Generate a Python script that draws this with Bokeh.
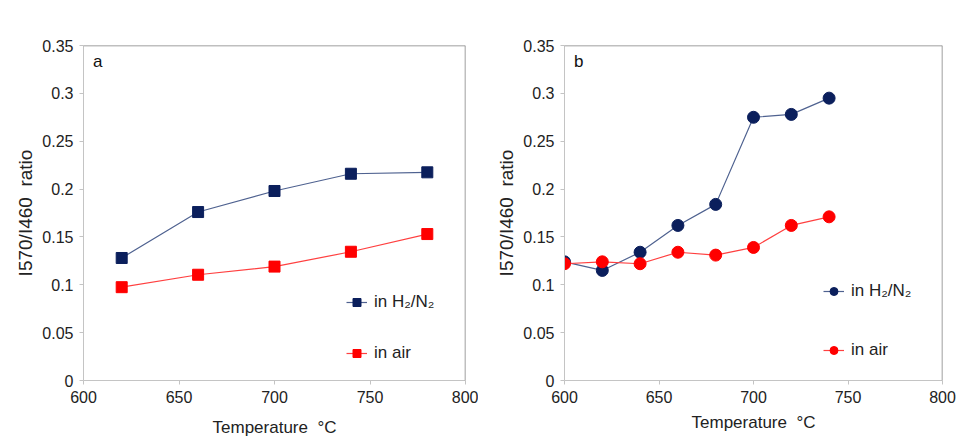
from bokeh.plotting import figure
from bokeh.layouts import row
from bokeh.models import Legend, LegendItem, Span, Label, FixedTicker
from bokeh.embed import file_html
from bokeh.resources import INLINE

# Panel a
temp_a = [620, 660, 700, 740, 780]
h2n2_a = [0.128, 0.176, 0.198, 0.216, 0.2175]
air_a = [0.0975, 0.1105, 0.119, 0.1345, 0.153]

# Panel b
temp_b = [600, 620, 640, 660, 680, 700, 720, 740]
h2n2_b = [0.124, 0.115, 0.134, 0.162, 0.184, 0.275, 0.278, 0.295]
air_b = [0.122, 0.124, 0.122, 0.134, 0.131, 0.139, 0.162, 0.171]

x_ticks = [600, 650, 700, 750, 800]
y_ticks = [0, 0.05, 0.1, 0.15, 0.2, 0.25, 0.3, 0.35]
y_labels = {0: "0", 0.05: "0.05", 0.1: "0.1", 0.15: "0.15", 0.2: "0.2",
            0.25: "0.25", 0.3: "0.3", 0.35: "0.35"}
x_title = "Temperature\u00a0 \u00b0C"
y_title = "I570/I460\u00a0 ratio"

NAVY = "#0b1f5c"
NAVY_LINE = "#4f6290"
RED = "#ff0000"
RED_LINE = "#ff4040"
FONT = "Liberation Sans"


def make_panel(w, h, borders, xs, s1, s2, marker, msize, panel_letter,
               leg_loc, leg_spacing, xlab_standoff):
    bl, br, bt, bb = borders
    p = figure(width=w, height=h, output_backend="svg", toolbar_location=None,
               x_range=(600, 800), y_range=(0, 0.35),
               min_border_left=bl, min_border_right=br,
               min_border_top=bt, min_border_bottom=bb)
    p.outline_line_color = None
    p.grid.visible = False
    p.background_fill_color = "white"
    p.border_fill_color = "white"

    for ax in (p.xaxis[0], p.yaxis[0]):
        ax.axis_line_color = "#c4c4c4"
        ax.major_tick_line_color = "#c4c4c4"
        ax.major_tick_out = 4
        ax.major_tick_in = 0
        ax.minor_tick_line_color = None
        ax.major_label_text_font = FONT
        ax.major_label_text_font_size = "16px"
        ax.major_label_text_color = "#222222"
        ax.axis_label_text_font = FONT
        ax.axis_label_text_font_style = "normal"
        ax.axis_label_text_color = "#222222"

    p.xaxis.ticker = FixedTicker(ticks=x_ticks)
    p.yaxis.ticker = FixedTicker(ticks=y_ticks)
    p.yaxis.major_label_overrides = y_labels
    p.yaxis.axis_label = y_title
    p.yaxis.axis_label_text_font_size = "19px"
    p.xaxis.axis_label = x_title
    p.xaxis.axis_label_text_font_size = "17px"
    p.xaxis.major_label_standoff = 6
    p.xaxis.axis_label_standoff = xlab_standoff
    p.yaxis.major_label_standoff = 6
    p.yaxis.axis_label_standoff = 3

    # top/right frame lines
    p.add_layout(Span(location=800, dimension="height", line_color="#808080", line_width=1.5))
    p.add_layout(Span(location=0.35, dimension="width", line_color="#808080", line_width=1.5))

    l1 = p.line(xs, s1, line_color=NAVY_LINE, line_width=1.2)
    m1 = p.scatter(xs, s1, marker=marker, size=msize, fill_color=NAVY, line_color=NAVY)
    l2 = p.line(xs, s2, line_color=RED_LINE, line_width=1.2)
    m2 = p.scatter(xs, s2, marker=marker, size=msize, fill_color=RED, line_color=RED)

    legend = Legend(items=[
        LegendItem(label="in H\u2082/N\u2082", renderers=[l1, m1]),
        LegendItem(label="in air", renderers=[l2, m2]),
    ], location=leg_loc)
    legend.border_line_color = None
    legend.background_fill_alpha = 0
    legend.padding = 0
    legend.margin = 0
    legend.spacing = leg_spacing
    legend.glyph_width = 21
    legend.glyph_height = 20
    legend.label_standoff = 7
    legend.label_text_font = FONT
    legend.label_text_font_size = "17px"
    legend.label_text_color = "#222222"
    p.add_layout(legend)

    p.add_layout(Label(x=605, y=0.3337, text=panel_letter, text_font=FONT,
                       text_font_size="17px", text_baseline="middle",
                       text_color="#111111"))
    return p


pa = make_panel(478, 439, (83, 13, 42, 56), temp_a, h2n2_a, air_a,
                "square", 11, "a", (263, 17), 31, 12)
pb = make_panel(479, 439, (86, 15, 45, 51), temp_b, h2n2_b, air_b,
                "circle", 12, "b", (259, 20), 39, 7)

layout = row(pa, pb)
open("out.html", "w").write(file_html(layout, INLINE))
